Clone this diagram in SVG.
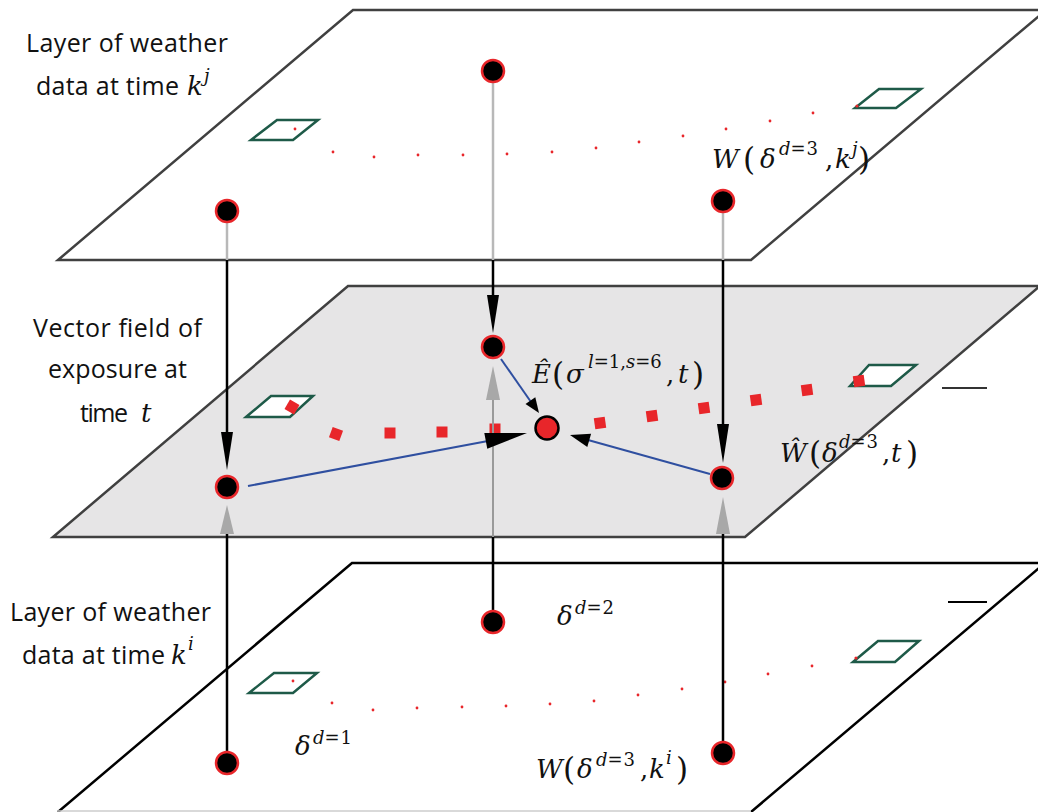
<svg xmlns="http://www.w3.org/2000/svg" width="1038" height="812" viewBox="0 0 1038 812">
<style>
.lbl{font-family:"Open Sans","Liberation Sans",sans-serif;font-size:25px;fill:#111}
.m{font-family:"DejaVu Serif","Liberation Serif",serif;font-style:italic;font-size:26px;fill:#111}
.mn{font-style:normal}
.sup{font-size:18px}
.par{font-style:normal;font-size:31px}
.node{fill:#000;stroke:#e8262a;stroke-width:2.5}
.cell{fill:none;stroke:#1e5a48;stroke-width:2.5}
.cellw{fill:#fff;stroke:#1e5a48;stroke-width:2.5}
.sq{fill:#e8262a}
.dot{fill:#e8262a}
.blk{stroke:#000;stroke-width:2.5;fill:none}
.gry{stroke:#b8b8b8;stroke-width:2.5;fill:none}
.gry2{stroke:#9a9a9a;stroke-width:2;fill:none}
.blue{stroke:#2f4fa0;stroke-width:2;fill:none}
.hb{fill:#000}
.hg{fill:#a8a8a8}
</style>

<!-- layers -->
<g id="layer-top">
<polygon points="353,10 1046,10 751,260 58,260" fill="#fff" stroke="#404040" stroke-width="2.5"/>
<polygon class="cell" points="251,140 277,120 318,120 293,140"/>
<polygon class="cell" points="855,108 879,89 921,89 896,108"/>
<g class="dot">
<circle cx="295" cy="129" r="1.4"/><circle cx="333" cy="152" r="1.4"/><circle cx="374" cy="157" r="1.4"/><circle cx="418" cy="155" r="1.4"/><circle cx="463" cy="155" r="1.4"/><circle cx="507" cy="154" r="1.4"/><circle cx="552" cy="152" r="1.4"/><circle cx="596" cy="148" r="1.4"/><circle cx="639" cy="142" r="1.4"/><circle cx="683" cy="136" r="1.4"/><circle cx="726" cy="129" r="1.4"/><circle cx="770" cy="121" r="1.4"/><circle cx="813" cy="113" r="1.4"/><circle cx="857" cy="106" r="1.6"/>
</g>
</g>

<g id="layer-middle">
<polygon points="348,286 1040,286 745,537 53,537" fill="#e6e5e6" stroke="#404040" stroke-width="2.5"/>
<polygon class="cellw" points="246,417 271,396 313,396 290,417"/>
<polygon class="cellw" points="850,386 869,365 916,365 891,386"/>
<line x1="942" y1="388" x2="987" y2="388" stroke="#333" stroke-width="2"/>
</g>

<g id="layer-bottom">
<polygon points="352,563 1045,563 751,812 58,812" fill="#fff" stroke="none"/>
<polyline points="58,812 352,563 1045,563 751,812" fill="none" stroke="#000" stroke-width="2.5"/>
<line x1="58" y1="811" x2="751" y2="811" stroke="#ccc" stroke-width="1.5"/>
<polygon class="cell" points="249,693 274,673 317,673 293,693"/>
<polygon class="cell" points="853,662 878,641 919,641 895,662"/>
<line x1="948" y1="602" x2="987" y2="602" stroke="#000" stroke-width="2"/>
<g class="dot">
<circle cx="293" cy="681" r="1.4"/><circle cx="332" cy="703" r="1.4"/><circle cx="373" cy="710" r="1.4"/><circle cx="417" cy="708" r="1.4"/><circle cx="462" cy="707" r="1.4"/><circle cx="506" cy="706" r="1.4"/><circle cx="550" cy="704" r="1.4"/><circle cx="594" cy="701" r="1.4"/><circle cx="638" cy="695" r="1.4"/><circle cx="682" cy="689" r="1.4"/><circle cx="725" cy="682" r="1.4"/><circle cx="768" cy="674" r="1.4"/><circle cx="812" cy="666" r="1.4"/><circle cx="856" cy="658" r="1.6"/>
</g>
</g>

<!-- red dotted path on middle layer -->
<g id="exposure-path" class="sq">
<rect x="286.5" y="401.5" width="11" height="11" transform="rotate(30 292 407)"/>
<rect x="330.5" y="428.5" width="11" height="11" transform="rotate(20 336 434)"/>
<rect x="384.5" y="427.5" width="11" height="11"/>
<rect x="436.5" y="426.5" width="11" height="11"/>
<rect x="489.5" y="423.5" width="11" height="11"/>
<rect x="594.5" y="417.5" width="11" height="11" transform="rotate(-8 600 423)"/>
<rect x="646.5" y="410.5" width="11" height="11" transform="rotate(-8 652 416)"/>
<rect x="698.5" y="402.5" width="11" height="11" transform="rotate(-8 704 408)"/>
<rect x="750.5" y="394.5" width="11" height="11" transform="rotate(-8 756 400)"/>
<rect x="801.5" y="384.5" width="11" height="11" transform="rotate(-8 807 390)"/>
<rect x="853.5" y="375.5" width="11" height="11" transform="rotate(-8 859 381)"/>
</g>

<!-- connectors -->
<g id="connectors">
<!-- left column -->
<line class="gry" x1="227" y1="223" x2="227" y2="260"/>
<line class="blk" x1="227" y1="260" x2="227" y2="440"/>
<polygon class="hb" points="221,432 233,432 227,470"/>
<line class="blk" x1="227" y1="530" x2="227" y2="751"/>
<polygon class="hg" points="220,534 234,534 227,505"/>
<!-- middle column -->
<line class="gry" x1="493" y1="83" x2="493" y2="260"/>
<line class="blk" x1="493" y1="260" x2="493" y2="300"/>
<polygon class="hb" points="487,295 499,295 493,333"/>
<line class="gry2" x1="493" y1="395" x2="493" y2="537"/>
<line class="blk" x1="493" y1="537" x2="493" y2="610"/>
<polygon class="hg" points="486,400 500,400 493,366"/>
<!-- right column -->
<line class="gry" x1="723" y1="213" x2="723" y2="260"/>
<line class="blk" x1="723" y1="260" x2="723" y2="430"/>
<polygon class="hb" points="717,424 729,424 723,463"/>
<line class="blk" x1="723" y1="530" x2="723" y2="741"/>
<polygon class="hg" points="716,534 730,534 723,497"/>
<!-- blue vectors -->
<line class="blue" x1="248" y1="486" x2="488" y2="441"/>
<polygon class="hb" points="487.3,448.8 484.3,433 527,433"/>
<line class="blue" x1="501" y1="359" x2="531" y2="402"/>
<polygon class="hb" points="525.5,404.1 535.3,397.3 539,413"/>
<line class="blue" x1="710" y1="474" x2="588" y2="440"/>
<polygon class="hb" points="591.1,433.7 587.3,447.1 570,435"/>
</g>

<!-- nodes -->
<g id="node-top-left"><circle class="node" cx="227" cy="211" r="11"/></g>
<g id="node-top-center"><circle class="node" cx="493" cy="71" r="11"/></g>
<g id="node-top-right"><circle class="node" cx="723" cy="201" r="11"/></g>
<g id="node-mid-left"><circle class="node" cx="227" cy="487" r="11"/></g>
<g id="node-mid-center"><circle class="node" cx="493" cy="347" r="11"/></g>
<g id="node-mid-right"><circle class="node" cx="722" cy="478" r="11"/></g>
<g id="node-exposure"><circle cx="547" cy="428" r="11.5" fill="#e8262a" stroke="#000" stroke-width="2.5"/></g>
<g id="node-bot-left"><circle class="node" cx="227" cy="763" r="11"/></g>
<g id="node-bot-center"><circle class="node" cx="493" cy="622" r="11"/></g>
<g id="node-bot-right"><circle class="node" cx="723" cy="753" r="11"/></g>

<!-- labels -->
<g id="labels">
<text class="lbl" x="26" y="52" textLength="202">Layer of weather</text>
<text class="lbl" x="36" y="95" textLength="143">data at time</text>
<text class="m" x="187" y="95">k</text><text class="m sup" x="204" y="82">j</text>

<text class="lbl" x="33" y="337" textLength="169">Vector field of</text>
<text class="lbl" x="48" y="378" textLength="139">exposure at</text>
<text class="lbl" x="80" y="422" textLength="48">time</text>
<text class="m" x="141" y="422">t</text>

<text class="lbl" x="10" y="621" textLength="201">Layer of weather</text>
<text class="lbl" x="22" y="664" textLength="143">data at time</text>
<text class="m" x="171" y="664">k</text><text class="m sup" x="188" y="650">i</text>

<!-- W(δ^{d=3}, k^j) top -->
<text class="m">
<tspan x="712" y="168">W</tspan><tspan class="par" x="743" y="170">(</tspan><tspan x="760" y="168">δ</tspan><tspan class="sup" x="779" y="155">d</tspan><tspan class="sup mn" letter-spacing="1">=3</tspan><tspan class="mn" x="825" y="168">,</tspan><tspan x="835" y="168">k</tspan><tspan class="sup" x="852" y="155">j</tspan><tspan class="par" x="858" y="170">)</tspan>
</text>

<!-- Ê(σ^{l=1,s=6}, t) -->
<text class="m">
<tspan x="532" y="383">Ê</tspan><tspan class="par" x="552" y="385">(</tspan><tspan x="566" y="383">σ</tspan><tspan class="sup" x="588" y="368">l</tspan><tspan class="sup mn">=1,</tspan><tspan class="sup">s</tspan><tspan class="sup mn">=6</tspan><tspan class="mn" x="666" y="383">,</tspan><tspan x="678" y="383">t</tspan><tspan class="par" x="692" y="385">)</tspan>
</text>

<!-- Ŵ(δ^{d=3}, t) -->
<text class="m">
<tspan x="780" y="462">Ŵ</tspan><tspan class="par" x="809" y="464">(</tspan><tspan x="822" y="462">δ</tspan><tspan class="sup" x="839" y="448">d</tspan><tspan class="sup mn" letter-spacing="1">=3</tspan><tspan class="mn" x="882" y="462">,</tspan><tspan x="891" y="462">t</tspan><tspan class="par" x="906" y="464">)</tspan>
</text>

<!-- δ^{d=1} -->
<text class="m"><tspan x="295" y="755">δ</tspan><tspan class="sup" x="313" y="744">d</tspan><tspan class="sup mn" letter-spacing="1">=1</tspan></text>

<!-- δ^{d=2} -->
<text class="m"><tspan x="557" y="625">δ</tspan><tspan class="sup" x="575" y="614">d</tspan><tspan class="sup mn" letter-spacing="1">=2</tspan></text>

<!-- W(δ^{d=3}, k^i) -->
<text class="m">
<tspan x="536" y="778">W</tspan><tspan class="par" x="563" y="780">(</tspan><tspan x="577" y="778">δ</tspan><tspan class="sup" x="596" y="766">d</tspan><tspan class="sup mn" letter-spacing="1">=3</tspan><tspan class="mn" x="640" y="778">,</tspan><tspan x="649" y="778">k</tspan><tspan class="sup" x="666" y="764">i</tspan><tspan class="par" x="676" y="780">)</tspan>
</text>
</g>
</svg>
